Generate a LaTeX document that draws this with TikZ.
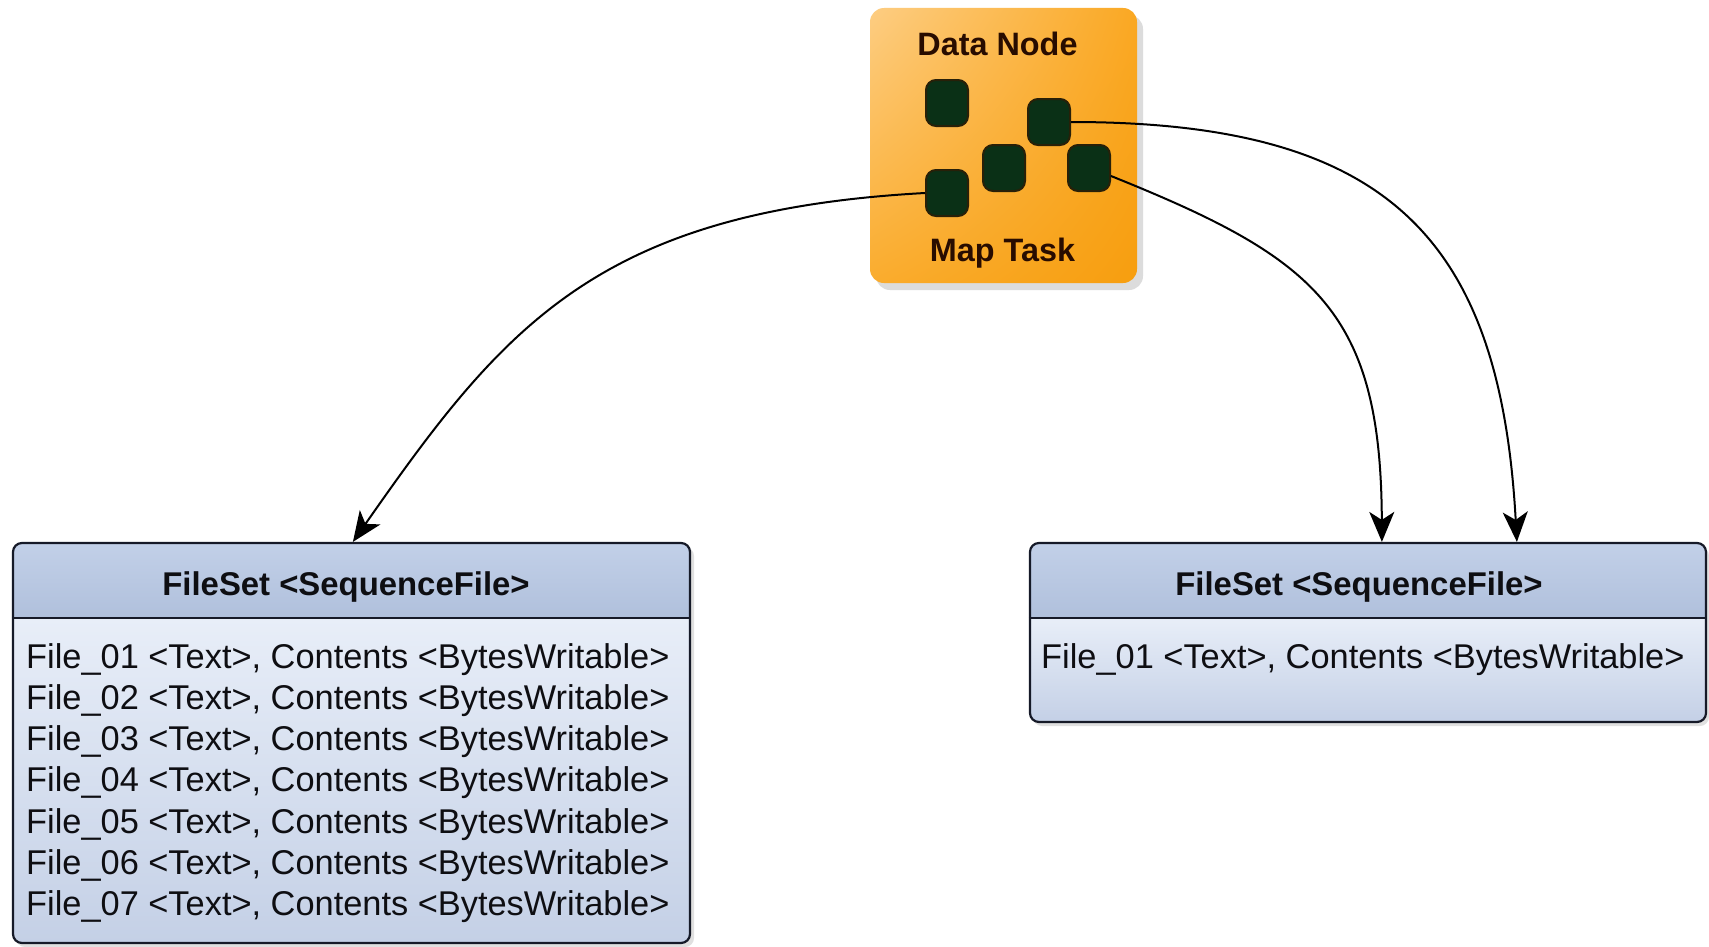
\documentclass[tikz,border=0pt]{standalone}
\usepackage{fontspec}
\setmainfont{Liberation Sans}
\usetikzlibrary{arrows.meta,calc,shadings}

\definecolor{frame}{RGB}{22,26,40}
\definecolor{hdrTop}{RGB}{194,208,232}
\definecolor{hdrBot}{RGB}{176,192,220}
\definecolor{bodyTop}{RGB}{232,238,248}
\definecolor{bodyBot}{RGB}{196,208,230}
\definecolor{taskGreen}{RGB}{10,48,22}
\definecolor{taskEdge}{RGB}{40,32,8}
\definecolor{dnText}{RGB}{40,12,0}
\definecolor{txt}{RGB}{14,14,18}
\definecolor{orUL}{RGB}{253,205,130}
\definecolor{orUR}{RGB}{250,168,35}
\definecolor{orLL}{RGB}{250,172,45}
\definecolor{orLR}{RGB}{247,158,15}

\tikzset{
  fsframe/.style={draw=frame, line width=2.2bp, rounded corners=9bp, inner sep=0pt},
  fshead/.style={font=\fontsize{33}{38}\selectfont\bfseries, text=txt, anchor=base, inner sep=0pt},
  fsline/.style={font=\fontsize{34.5}{40}\selectfont, text=txt, anchor=base west, inner sep=0pt},
  dnlabel/.style={font=\fontsize{32.5}{38}\selectfont\bfseries, text=dnText, anchor=base, inner sep=0pt},
  tasksq/.style={fill=taskGreen, draw=taskEdge, line width=2bp, rounded corners=10bp,
                 minimum width=42bp, minimum height=46bp, inner sep=0pt},
  link/.style={draw=black, line width=2bp, -{Stealth[length=30bp, width=25bp, inset=8bp]}},
}

\begin{document}
\begin{tikzpicture}[x=1bp, y=-1bp]
\useasboundingbox (0,0) rectangle (1709,946);
\fill[white] (0,0) rectangle (1709,946);

% ---------- Data node with its map tasks ----------
\fill[black!45, opacity=0.3, rounded corners=14bp] (876,15) rectangle (1143,290);
\node[rounded corners=14bp, minimum width=267bp, minimum height=275bp, inner sep=0pt,
      shade, upper left=orUL, upper right=orUR, lower left=orLL, lower right=orLR]
  (dn) at (1003.5,145.5) {};
\node[dnlabel] (dntitle) at (997.5,55) {Data Node};
\node[dnlabel] (dnfoot) at (1002.5,261) {Map Task};

\node[tasksq] (t1) at (947,103) {};
\node[tasksq] (t2) at (1049,122) {};
\node[tasksq] (t3) at (1004,168) {};
\node[tasksq] (t4) at (1089,168) {};
\node[tasksq] (t5) at (947,193) {};

% ---------- left file set ----------
\fill[black!40, opacity=0.3, rounded corners=9bp] (16,547) rectangle (694,947);
\begin{scope}
  \clip[rounded corners=9bp] (13,543) rectangle (690,943);
  \shade[top color=hdrTop, bottom color=hdrBot] (13,543) rectangle (690,618);
  \shade[top color=bodyTop, bottom color=bodyBot] (13,618) rectangle (690,943);
\end{scope}
\node[fsframe, minimum width=677bp, minimum height=400bp] (setL) at (351.5,743) {};
\draw[frame, line width=2.2bp] (setL.west |- 0,618) -- (setL.east |- 0,618);
\node[fshead] (hL) at (346,595) {FileSet <SequenceFile>};
\foreach \i [count=\k from 0] in {1,...,7} {
  \node[fsline] (fL\i) at (26,668+41.3*\k) {File\_0\i{} <Text>, Contents <BytesWritable>};
}

% ---------- right file set ----------
\fill[black!40, opacity=0.3, rounded corners=9bp] (1033,547) rectangle (1709,726);
\begin{scope}
  \clip[rounded corners=9bp] (1030,543) rectangle (1706,722);
  \shade[top color=hdrTop, bottom color=hdrBot] (1030,543) rectangle (1706,618);
  \shade[top color=bodyTop, bottom color=bodyBot] (1030,618) rectangle (1706,722);
\end{scope}
\node[fsframe, minimum width=676bp, minimum height=179bp] (setR) at (1368,632.5) {};
\draw[frame, line width=2.2bp] (setR.west |- 0,618) -- (setR.east |- 0,618);
\node[fshead] (hR) at (1359,595) {FileSet <SequenceFile>};
\node[fsline] (fR1) at (1041,668) {File\_01 <Text>, Contents <BytesWritable>};

% ---------- connectors ----------
\coordinate (inL)  at ($(setL.north west)+(341,0)$);
\coordinate (inR1) at ($(setR.north west)+(353,0)$);
\coordinate (inR2) at ($(setR.north west)+(488,0)$);

\draw[link] (t5.west) .. controls (597,211) and (503,327) .. (inL);
\draw[link] (t4.-20) .. controls (1315,258) and (1381,310) .. (inR1);
\draw[link] (t2.east) .. controls (1385,122) and (1500,235) .. (inR2);
\end{tikzpicture}
\end{document}
